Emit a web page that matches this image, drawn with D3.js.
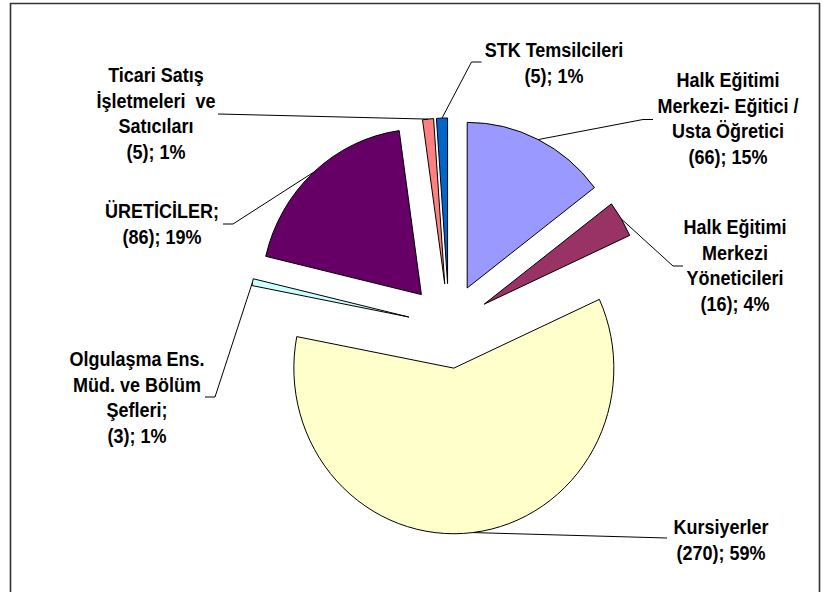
<!DOCTYPE html>
<html>
<head>
  <meta charset="utf-8">
  <script src="https://d3js.org/d3.v7.min.js"></script>
  <style>
    body { margin: 0; background: #fff; }
    .chart text {
      font: bold 18px "Liberation Sans", Arial, sans-serif;
      fill: #000;
      text-anchor: middle;
      white-space: pre;
    }
    .chart .slice { stroke: #000; stroke-width: 1; }
    .chart .leader { fill: none; stroke: #000; stroke-width: 1; }
  </style>
</head>
<body>
  <svg class="chart" width="834" height="592"></svg>
  <script>
    // data, clockwise from 12 o'clock
    var categories = [
      'Halk Eğitimi Merkezi- Eğitici / Usta Öğretici',
      'Halk Eğitimi Merkezi Yöneticileri',
      'Kursiyerler',
      'Olgulaşma Ens. Müd. ve Bölüm Şefleri',
      'ÜRETİCİLER',
      'Ticari Satış İşletmeleri ve Satıcıları',
      'STK Temsilcileri'
    ];
    var values = [66, 16, 270, 3, 86, 5, 5];
    var percents = [15, 4, 59, 1, 19, 1, 1];
    var labelLines = [
      ['Halk Eğitimi', 'Merkezi- Eğitici /', 'Usta Öğretici'],
      ['Halk Eğitimi', 'Merkezi', 'Yöneticileri'],
      ['Kursiyerler'],
      ['Olgulaşma Ens.', 'Müd. ve Bölüm', 'Şefleri;'],
      ['ÜRETİCİLER;'],
      ['Ticari Satış', 'İşletmeleri  ve', 'Satıcıları'],
      ['STK Temsilcileri']
    ];
    var colors = ['#9999ff', '#993366', '#ffffcc', '#ccffff', '#660066', '#ff8080', '#0066cc'];

    // layout
    var cx = 449, cy = 326;
    var radius = 160;
    var stretchY = 1.035;   // the original pie is a little taller than wide
    var textStretch = 1.08; // and so is its lettering
    var explode = 41;
    var lineH = 25.7;

    // label anchor (centre x, first baseline) and leader elbow/end points
    var labelPos = [
      { x: 728, y: 87,  leader: [[643, 119.5], [653, 119.5]] },
      { x: 735, y: 234, leader: [[673, 266], [683, 266]] },
      { x: 721, y: 534, leader: [[667, 538]] },
      { x: 137, y: 366, leader: [[215, 397], [205, 397]] },
      { x: 162, y: 218, leader: [[233, 224], [223, 224]] },
      { x: 156, y: 82,  leader: [[218, 114]] },
      { x: 554, y: 57,  leader: [[471.5, 62], [481.5, 62]] }
    ];

    var svg = d3.select('.chart');

    // frame
    svg.append('path')
      .attr('d', 'M10.5,592 V3.5 H819.5 V592')
      .attr('fill', 'none')
      .attr('stroke', '#333')
      .attr('stroke-width', 1.6);

    var pie = d3.pie().sort(null).value(function (d) { return d; });
    var arcs = pie(values);
    var arc = d3.arc().innerRadius(0).outerRadius(radius);

    function offset(d, r) {
      var a = (d.startAngle + d.endAngle) / 2;
      return [Math.sin(a) * r, -Math.cos(a) * r];
    }

    var g = svg.append('g')
      .attr('transform', 'translate(' + cx + ',' + cy + ') scale(1,' + stretchY + ')');

    g.selectAll('path')
      .data(arcs)
      .enter()
      .append('path')
      .attr('class', 'slice')
      .attr('vector-effect', 'non-scaling-stroke')
      .attr('fill', function (d, i) { return colors[i]; })
      .attr('transform', function (d) {
        var o = offset(d, explode);
        return 'translate(' + o[0] + ',' + o[1] + ')';
      })
      .attr('d', arc);

    // leader lines start on the outer arc at the slice's mid angle
    svg.selectAll('.leader')
      .data(arcs)
      .enter()
      .append('path')
      .attr('class', 'leader')
      .attr('d', function (d, i) {
        var o = offset(d, explode + radius);
        var start = [cx + o[0], cy + o[1] * stretchY];
        return d3.line()([start].concat(labelPos[i].leader));
      });

    var labels = svg.selectAll('.label')
      .data(arcs)
      .enter()
      .append('text')
      .attr('class', 'label')
      .attr('transform', function (d, i) {
        return 'translate(' + labelPos[i].x + ',' + labelPos[i].y + ') scale(1,' + textStretch + ')';
      });

    labels.each(function (d, i) {
      var lines = labelLines[i].concat(['(' + values[i] + '); ' + percents[i] + '%']);
      d3.select(this).selectAll('tspan')
        .data(lines)
        .enter()
        .append('tspan')
        .attr('x', 0)
        .attr('dy', function (t, j) { return j === 0 ? 0 : lineH / textStretch; })
        .text(function (t) { return t; });
    });
  </script>
</body>
</html>
